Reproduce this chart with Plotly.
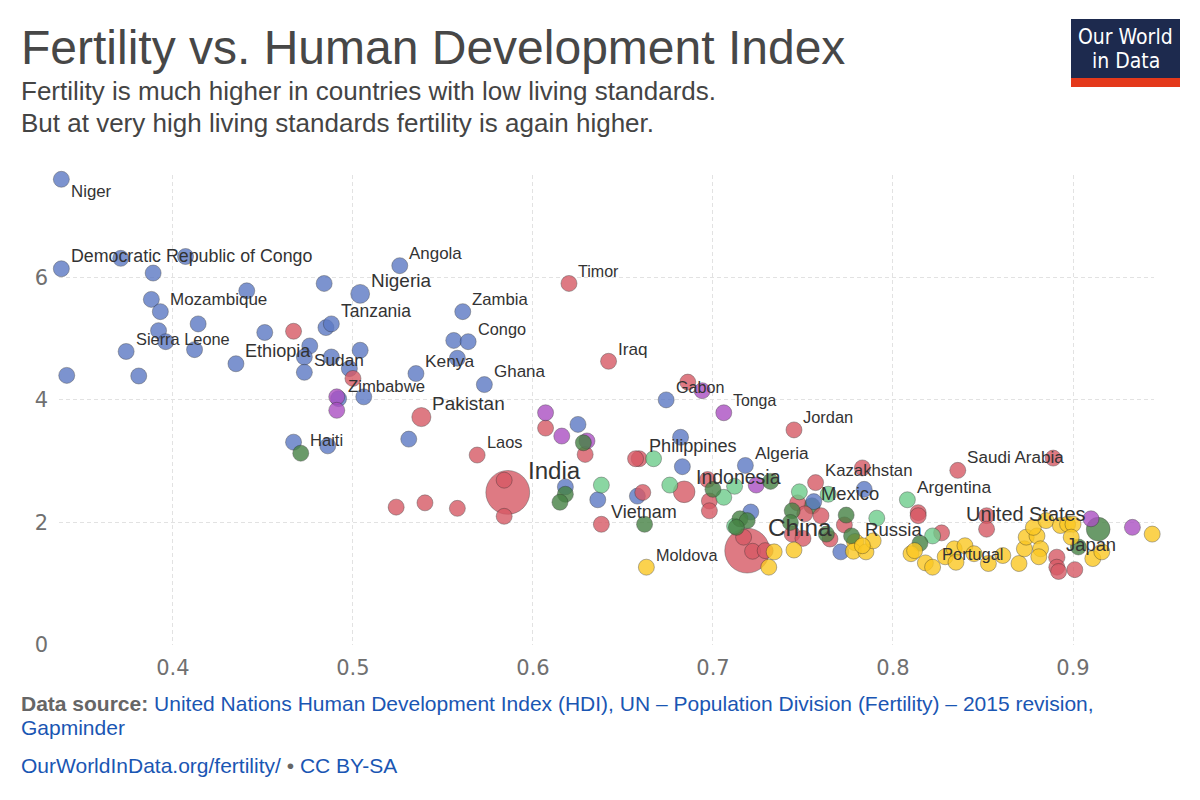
import numpy as np
import plotly.graph_objects as go

# ---- data (HDI, fertility, population in millions) ----
africa_name = ["Niger", "Democratic Republic of Congo", "", "", "", "", "", "Nigeria", "Angola", "",
               "Mozambique", "", "", "", "", "Sierra Leone", "", "", "Ethiopia", "",
               "", "", "Tanzania", "", "", "Sudan", "", "", "Zimbabwe", "",
               "", "", "Zambia", "", "Congo", "", "Kenya", "Ghana", "", "",
               "", "", "", "Gabon", "", "", "Algeria", "", "", "", ""]
africa_hdi = [0.338, 0.338, 0.371, 0.407, 0.389, 0.441, 0.484, 0.504, 0.526, 0.388,
              0.393, 0.414, 0.392, 0.396, 0.412, 0.374, 0.341, 0.381, 0.435, 0.451,
              0.476, 0.485, 0.488, 0.473, 0.488, 0.473, 0.504, 0.498, 0.492, 0.506,
              0.467, 0.486, 0.561, 0.556, 0.564, 0.558, 0.535, 0.573, 0.531, 0.625,
              0.618, 0.636, 0.658, 0.674, 0.682, 0.683, 0.718, 0.721, 0.756, 0.784, 0.771]
africa_fert = [7.60, 6.14, 6.31, 6.34, 6.07, 5.78, 5.90, 5.73, 6.19, 5.64,
               5.44, 5.24, 5.13, 4.95, 4.82, 4.79, 4.40, 4.39, 4.59, 5.10,
               4.88, 5.18, 5.24, 4.70, 4.70, 4.45, 4.81, 4.51, 4.02, 4.05,
               3.31, 3.25, 5.44, 4.97, 4.95, 4.68, 4.43, 4.25, 3.36, 3.60,
               2.58, 2.37, 2.43, 4.00, 3.39, 2.91, 2.93, 2.17, 2.34, 2.54, 1.52]
africa_pop = [20, 77, 14, 17, 14, 10, 18, 183, 25, 15,
              28, 10, 10, 10, 12, 6, 5, 5, 100, 24,
              40, 38, 53, 10, 10, 40, 12, 12, 15, 12,
              10, 10, 16, 20, 5, 10, 46, 27, 10, 10,
              5, 5, 10, 2, 5, 10, 40, 10, 10, 10, 10]

asia_name = ["", "", "Pakistan", "Timor", "Iraq", "Laos", "India", "", "", "",
             "", "", "", "", "Vietnam", "", "Philippines", "", "", "Indonesia",
             "", "", "", "Jordan", "Kazakhstan", "", "China", "", "", "",
             "", "", "", "", "", "", "", "Saudi Arabia", "", "",
             "", "", "", "", "Japan", "", "", ""]
asia_hdi = [0.467, 0.500, 0.538, 0.620, 0.642, 0.569, 0.586, 0.584, 0.584, 0.524,
            0.540, 0.558, 0.607, 0.629, 0.638, 0.661, 0.659, 0.657, 0.686, 0.684,
            0.697, 0.698, 0.698, 0.745, 0.757, 0.783, 0.719, 0.722, 0.729, 0.717,
            0.747, 0.751, 0.760, 0.744, 0.750, 0.765, 0.773, 0.836, 0.889, 0.814,
            0.814, 0.827, 0.852, 0.852, 0.891, 0.891, 0.892, 0.901]
asia_fert = [5.12, 4.35, 3.72, 5.90, 4.63, 3.10, 2.49, 2.69, 2.10, 2.25,
             2.32, 2.23, 3.54, 3.11, 1.97, 2.49, 3.04, 3.04, 4.29, 2.50,
             2.70, 2.35, 2.19, 3.51, 2.65, 2.89, 1.54, 1.53, 1.54, 1.76,
             2.32, 2.14, 2.11, 1.81, 1.74, 1.73, 1.96, 2.85, 3.05, 2.16,
             2.11, 1.83, 2.11, 1.89, 1.43, 1.27, 1.20, 1.23]
asia_pop = [32, 10, 189, 1.2, 36, 7, 1311, 10, 10, 10,
            10, 10, 10, 10, 92, 10, 101, 10, 10, 258,
            10, 10, 10, 8, 17, 10, 1376, 10, 10, 10,
            10, 10, 10, 10, 10, 10, 10, 31, 8, 10,
            10, 10, 10, 10, 127, 10, 10, 10]

oceania_name = ["", "", "", "", "", "", "Tonga", "", "", ""]
oceania_hdi = [0.491, 0.491, 0.607, 0.616, 0.630, 0.694, 0.706, 0.724, 0.910, 0.933]
oceania_fert = [4.05, 3.83, 3.79, 3.41, 3.33, 4.15, 3.79, 2.61, 2.06, 1.92]
oceania_pop = [5, 5, 1, 1, 1, 1, 0.1, 1, 24, 5]

south_am_name = ["", "", "", "", "", "", "", "", "", "Argentina", ""]
south_am_hdi = [0.638, 0.667, 0.676, 0.706, 0.712, 0.748, 0.712, 0.764, 0.791, 0.808, 0.822]
south_am_fert = [2.61, 3.04, 2.61, 2.41, 2.59, 2.50, 1.94, 2.46, 2.07, 2.37, 1.78]
south_am_pop = [10, 10, 10, 10, 10, 10, 10, 10, 10, 43, 10]

north_am_name = ["Haiti", "", "", "", "", "", "", "", "", "Mexico",
                 "", "", "", "", "", "", "United States", "", ""]
north_am_hdi = [0.471, 0.628, 0.618, 0.615, 0.662, 0.700, 0.715, 0.719, 0.713, 0.755,
                0.744, 0.743, 0.763, 0.774, 0.777, 0.815, 0.914, 0.903, 0.732]
north_am_fert = [3.13, 3.30, 2.46, 2.33, 1.97, 2.54, 2.06, 2.03, 1.92, 2.27,
                 2.19, 2.00, 1.81, 2.12, 1.78, 1.66, 1.89, 1.60, 2.67]
north_am_pop = [11, 5, 5, 5, 5, 5, 5, 5, 5, 125,
                5, 5, 5, 5, 5, 5, 321, 10, 5]

europe_name = ["Moldova", "", "", "", "", "", "", "Russia", "", "",
               "", "", "Portugal", "", "", "", "", "", "", "",
               "", "", "", "", "", "", "", "", "", "",
               "", "", "", "", ""]
europe_hdi = [0.663, 0.734, 0.731, 0.745, 0.778, 0.785, 0.789, 0.779, 0.783, 0.810,
              0.812, 0.818, 0.822, 0.829, 0.834, 0.835, 0.840, 0.845, 0.853, 0.861,
              0.870, 0.873, 0.874, 0.880, 0.882, 0.881, 0.878, 0.885, 0.893, 0.897,
              0.900, 0.899, 0.911, 0.916, 0.944]
europe_fert = [1.27, 1.52, 1.27, 1.55, 1.53, 1.52, 1.70, 1.68, 1.62, 1.49,
               1.54, 1.34, 1.27, 1.44, 1.57, 1.35, 1.62, 1.49, 1.33, 1.46,
               1.33, 1.57, 1.76, 1.78, 1.57, 1.44, 1.92, 2.03, 1.95, 1.97,
               1.97, 1.76, 1.41, 1.52, 1.81]
europe_pop = [4, 10, 10, 10, 10, 10, 10, 144, 10, 10,
              10, 10, 10, 10, 10, 10, 10, 10, 10, 10,
              10, 10, 10, 10, 10, 10, 10, 10, 10, 10,
              10, 10, 10, 10, 5]

regions = [
    (africa_name, africa_hdi, africa_fert, africa_pop, "rgb(92,121,196)"),
    (asia_name, asia_hdi, asia_fert, asia_pop, "rgb(215,89,101)"),
    (oceania_name, oceania_hdi, oceania_fert, oceania_pop, "rgb(171,80,195)"),
    (south_am_name, south_am_hdi, south_am_fert, south_am_pop, "rgb(110,205,139)"),
    (north_am_name, north_am_hdi, north_am_fert, north_am_pop, "rgb(70,130,68)"),
    (europe_name, europe_hdi, europe_fert, europe_pop, "rgb(251,200,35)"),
]

# label placement that differs from the default top-right
label_side = {"Niger": "bottom right", "United States": "top left"}

# ---- page geometry ----
W, H = 1200, 800
ML, MR, MT, MB = 59, 46, 175, 155
PW, PH = W - ML - MR, H - MT - MB


def px_x(px):
    return (px - ML) / PW


def px_y(py):
    return (H - MB - py) / PH


names, xs, ys, pops, cols = [], [], [], [], []
for nm, hx, fy, pp, col in regions:
    names += nm
    xs += hx
    ys += fy
    pops += pp
    cols += [col] * len(hx)

names = np.array(names)
xs = np.array(xs)
ys = np.array(ys)
pops = np.array(pops, dtype=float)
cols = np.array(cols)
sizes = np.maximum(16, 4 + 1.1 * np.sqrt(pops))

order = np.argsort(-sizes, kind="stable")

fig = go.Figure()
fig.add_trace(go.Scatter(
    x=xs[order], y=ys[order], mode="markers",
    marker=dict(size=sizes[order], color=cols[order], opacity=0.8,
                line=dict(color="rgba(40,40,40,0.55)", width=0.8)),
    cliponaxis=False, hoverinfo="skip", showlegend=False,
))

# country labels
for nm, x, y, s, p in zip(names, xs, ys, sizes, pops):
    if not nm:
        continue
    r = s / 2
    fs = 15.8 + 0.23 * np.sqrt(p)
    side = label_side.get(nm, "top right")
    dx = 0.8 * r + 1
    dy = 0.7 * r + 7
    if side == "bottom right":
        xa, xsh, ysh = "left", dx, -dy
    elif side == "top left":
        xa, xsh, ysh = "right", -dx, dy
    else:
        xa, xsh, ysh = "left", dx, dy
    fig.add_annotation(x=x, y=y, text=nm, showarrow=False, xanchor=xa, yanchor="middle",
                       xshift=xsh, yshift=ysh,
                       font=dict(size=fs, color="#333333"))

grey = "#666666"
link = "#1a56b3"
fig.add_annotation(xref="paper", yref="paper", x=px_x(19), y=px_y(47), xanchor="left",
                   yanchor="middle", showarrow=False,
                   text="Fertility vs. Human Development Index",
                   font=dict(size=48, color="#474747"))
fig.add_annotation(xref="paper", yref="paper", x=px_x(19), y=px_y(91), xanchor="left",
                   yanchor="middle", showarrow=False,
                   text="Fertility is much higher in countries with low living standards.",
                   font=dict(size=26, color="#444444"))
fig.add_annotation(xref="paper", yref="paper", x=px_x(19), y=px_y(123), xanchor="left",
                   yanchor="middle", showarrow=False,
                   text="But at very high living standards fertility is again higher.",
                   font=dict(size=26, color="#444444"))

fig.add_annotation(xref="paper", yref="paper", x=px_x(19), y=px_y(703), xanchor="left",
                   yanchor="middle", showarrow=False,
                   text=("<b>Data source:</b> <span style='color:%s'>United Nations Human Development "
                         "Index (HDI), UN – Population Division (Fertility) – 2015 revision,</span>") % link,
                   font=dict(size=21, color=grey))
fig.add_annotation(xref="paper", yref="paper", x=px_x(19), y=px_y(727), xanchor="left",
                   yanchor="middle", showarrow=False, text="Gapminder",
                   font=dict(size=21, color=link))
fig.add_annotation(xref="paper", yref="paper", x=px_x(19), y=px_y(765), xanchor="left",
                   yanchor="middle", showarrow=False,
                   text="OurWorldInData.org/fertility/ <span style='color:%s'>•</span> CC BY-SA" % grey,
                   font=dict(size=21, color=link))

# logo
fig.add_shape(type="rect", xref="paper", yref="paper", x0=px_x(1071), x1=px_x(1180),
              y0=px_y(87), y1=px_y(19), fillcolor="#1d2a4e", line_width=0, layer="above")
fig.add_shape(type="rect", xref="paper", yref="paper", x0=px_x(1071), x1=px_x(1180),
              y0=px_y(87), y1=px_y(78), fillcolor="#e4391b", line_width=0, layer="above")
for txt, cy in [("Our World", 37), ("in Data", 61)]:
    fig.add_annotation(xref="paper", yref="paper", x=px_x(1125.5), y=px_y(cy), xanchor="center",
                       yanchor="middle", showarrow=False, text=txt,
                       font=dict(size=21, color="white",
                                 family="Liberation Sans Narrow, DejaVu Sans Condensed, Liberation Sans, sans-serif"))

tick_font = dict(size=21, color="#707070", family="DejaVu Sans, sans-serif")
grid = dict(showgrid=True, gridcolor="#e2e2e2", griddash="4px,3px", gridwidth=1,
            zeroline=False, showline=False, tickfont=tick_font)
fig.update_xaxes(range=[0.3367, 0.9450], tickvals=[0.4, 0.5, 0.6, 0.7, 0.8, 0.9],
                 ticktext=["0.4", "0.5", "0.6", "0.7", "0.8", "0.9"],
                 ticks="outside", ticklen=4, tickcolor="rgba(0,0,0,0)", **grid)
fig.update_yaxes(range=[0, 7.67], tickvals=[0, 2, 4, 6], ticks="", ticklabelstandoff=10, **grid)
fig.update_layout(width=W, height=H, margin=dict(l=ML, r=MR, t=MT, b=MB),
                  plot_bgcolor="white", paper_bgcolor="white",
                  font=dict(family="Liberation Sans, Arial, sans-serif"))

fig.write_html("out.html", config={"displayModeBar": False},
               post_script="document.body.style.margin='0px';")
